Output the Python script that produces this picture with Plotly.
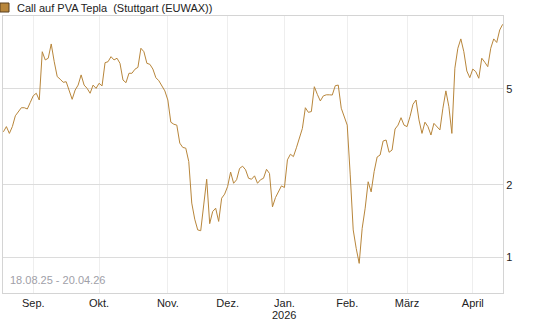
import pandas as pd
import plotly.graph_objects as go

# Trading calendar (Stuttgart / EUWAX)
holidays = ["2025-12-24", "2025-12-25", "2025-12-26", "2025-12-31",
            "2026-01-01", "2026-04-03", "2026-04-06"]
dates = [d.strftime("%Y-%m-%d") for d in pd.bdate_range("2025-08-18", "2026-04-17")
         if d.strftime("%Y-%m-%d") not in holidays]

values = [
    3.32, 3.49, 3.27, 3.49, 3.87, 4.00, 4.18, 4.18, 4.13, 4.40,
    4.69, 4.80, 4.50, 7.14, 6.60, 6.71, 7.69, 6.49, 5.63, 5.49,
    5.33, 5.36, 4.92, 4.53, 4.95, 5.19, 5.72, 5.19, 5.03, 4.80,
    5.19, 5.03, 5.28, 5.15, 6.43, 6.49, 6.81, 6.60, 6.71, 6.39,
    5.45, 5.31, 5.81, 5.81, 6.04, 6.15, 7.38, 7.14, 6.39, 6.33,
    6.05, 5.57, 5.41, 5.16, 4.91, 4.50, 3.64, 3.57, 3.54, 2.98,
    2.86, 2.84, 2.50, 1.68, 1.44, 1.30, 1.29, 1.65, 2.11, 1.38,
    1.55, 1.60, 1.41, 1.76, 1.83, 1.97, 2.26, 2.03, 2.10, 2.34,
    2.39, 2.31, 2.13, 2.11, 2.18, 2.03, 2.10, 2.13, 2.32, 2.23,
    1.62, 1.77, 1.87, 1.98, 1.95, 2.54, 2.68, 2.62, 2.85, 3.14,
    3.43, 4.18, 4.00, 4.03, 5.11, 4.75, 4.46, 4.68, 4.73, 4.73,
    4.72, 5.16, 5.19, 4.16, 3.84, 3.54, 2.20, 1.30, 1.09, 0.944,
    1.32, 1.60, 2.06, 1.87, 2.27, 2.61, 2.66, 3.04, 3.07, 2.73,
    2.79, 3.41, 3.54, 3.80, 3.54, 3.49, 3.84, 4.32, 4.50, 3.72,
    3.27, 3.64, 3.49, 3.22, 3.60, 3.49, 3.38, 4.16, 4.91, 4.22,
    3.27, 6.10, 7.38, 8.07, 7.14, 5.94, 5.57, 6.05, 5.90, 5.54,
    6.71, 6.46, 6.19, 7.38, 8.07, 7.80, 8.79, 9.28,
]

month_labels = ["Sep.", "Okt.", "Nov.", "Dez.", "Jan.", "Feb.", "März", "April"]
month_keys = ["2025-09", "2025-10", "2025-11", "2025-12", "2026-01", "2026-02", "2026-03", "2026-04"]
tick_dates = [next(d for d in dates if d.startswith(k)) for k in month_keys]
year_label = "2026"

y_ticks = [1, 2, 5]
line_color = "#B8863B"

fig = go.Figure()
fig.add_trace(go.Scatter(x=dates, y=values, mode="lines",
                         line=dict(color=line_color, width=1),
                         hoverinfo="x+y", showlegend=False))

fig.update_layout(
    width=545, height=327,
    margin=dict(l=3, r=42, t=16, b=34),
    paper_bgcolor="white", plot_bgcolor="white",
    font=dict(family="Liberation Sans, Arial, sans-serif", size=11, color="#222"),
    xaxis=dict(type="category", range=[-0.13, len(dates) - 0.9],
               tickmode="array", tickvals=tick_dates, ticktext=month_labels,
               showgrid=True, gridcolor="#eeeeee", gridwidth=1,
               showline=True, linecolor="#d4d4d4", linewidth=1, mirror=True,
               ticks="", zeroline=False),
    yaxis=dict(type="log", range=[-0.148, 1.002], side="right",
               tickmode="array", tickvals=y_ticks, ticktext=[str(v) for v in y_ticks],
               showgrid=True, gridcolor="#dcdcdc", gridwidth=1,
               showline=True, linecolor="#d4d4d4", linewidth=1, mirror=True,
               ticks="", zeroline=False),
    shapes=[dict(type="rect", xref="paper", yref="paper",
                 x0=-3/500, x1=6/500, y0=1 + 4/277, y1=1 + 13/277,
                 fillcolor=line_color, line=dict(color="#5a4020", width=1))],
    annotations=[
        dict(text="Call auf PVA Tepla  (Stuttgart (EUWAX))", xref="paper", yref="paper",
             x=12/500, y=1 + 8.5/277, xanchor="left", yanchor="middle", showarrow=False,
             font=dict(size=11, color="#222")),
        dict(text="18.08.25 - 20.04.26", xref="paper", yref="paper",
             x=5/500, y=5/277, xanchor="left", yanchor="bottom", showarrow=False,
             font=dict(size=11, color="#a0a0a8")),
        dict(text=year_label, xref="x", yref="paper",
             x=tick_dates[4], y=-22/277, xanchor="center", yanchor="middle", showarrow=False,
             font=dict(size=11, color="#222")),
    ],
)

fig.write_html("out.html")
